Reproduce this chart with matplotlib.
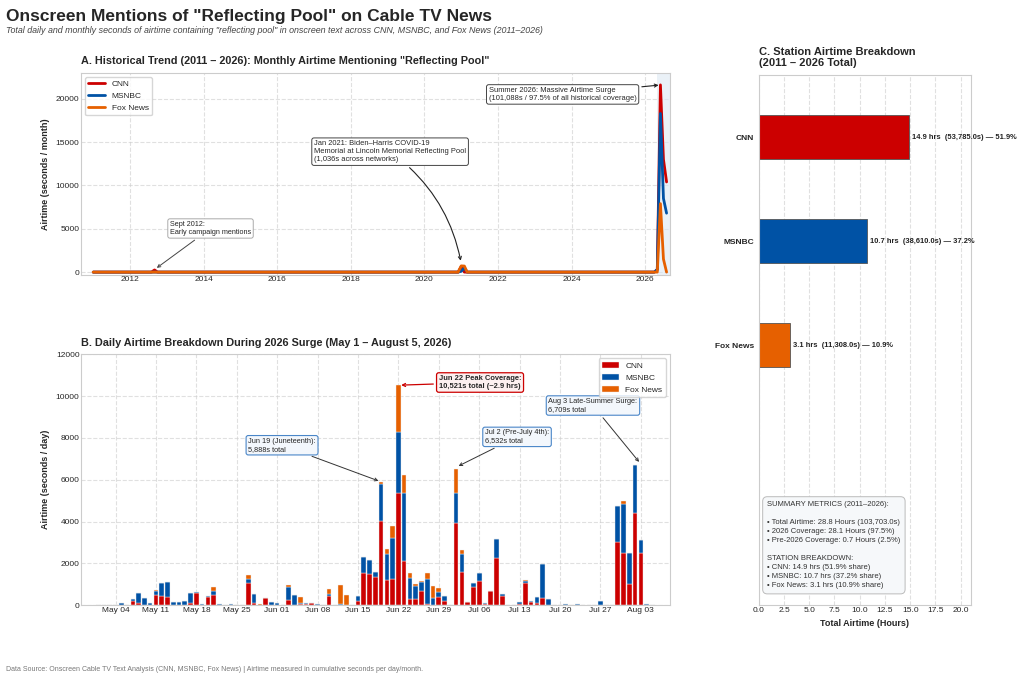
import matplotlib
matplotlib.use("Agg")
import matplotlib.pyplot as plt
import matplotlib.dates as mdates
import pandas as pd
import numpy as np

plt.style.use("seaborn-v0_8-whitegrid")
plt.rcParams['font.family'] = ['Liberation Sans', 'DejaVu Sans']
plt.rcParams['grid.linestyle'] = '--'
plt.rcParams['grid.alpha'] = 0.6

C_CNN = "#cc0000"
C_MSNBC = "#0052a5"
C_FOX = "#e66000"

# ---- monthly history (zero except these months) ----
spike_months = ["2012-09", "2021-01", "2021-02", "2026-05", "2026-06", "2026-07", "2026-08"]
cnn_spikes = [250, 650, 0, 300, 21600, 13000, 10400]
msnbc_spikes = [0, 100, 500, 300, 18300, 8500, 6800]
fox_spikes = [0, 720, 700, 0, 7900, 1500, 0]

months = pd.date_range("2011-01-01", "2026-08-01", freq="MS")
cnn_m = pd.Series(0.0, index=months)
msnbc_m = pd.Series(0.0, index=months)
fox_m = pd.Series(0.0, index=months)
for m, c, ms, f in zip(spike_months, cnn_spikes, msnbc_spikes, fox_spikes):
    cnn_m[pd.Timestamp(m + "-01")] = c
    msnbc_m[pd.Timestamp(m + "-01")] = ms
    fox_m[pd.Timestamp(m + "-01")] = f

# ---- daily 2026 surge (May 1 .. Aug 5), non-zero days by offset from May 1 ----
day_idx = [4, 6, 7, 8, 9, 10, 11, 12, 13, 14, 15, 16, 17, 18, 19, 20, 21, 23,
           26, 27, 28, 29, 30, 31, 33, 34, 35, 36, 37, 38, 40, 41, 42, 43,
           45, 46, 47, 48, 49, 50, 51, 52, 53, 54, 55, 56, 57, 58, 59, 60,
           62, 63, 64, 65, 66, 67, 68, 69, 70, 71, 73, 74, 75, 76, 77, 78,
           81, 83, 87, 90, 91, 92, 93, 94, 95]
cnn_d = [0, 200, 100, 0, 0, 480, 450, 380, 0, 0, 0, 100, 560, 0, 400, 500, 0, 0,
         1050, 100, 0, 350, 0, 0, 270, 0, 50, 40, 100, 20, 430, 0, 0, 0,
         200, 1550, 1500, 1370, 4050, 1200, 1250, 5350, 2100, 320, 300, 700, 50, 0, 400, 200,
         3920, 1600, 150, 850, 1150, 50, 660, 2270, 460, 0, 50, 1050, 150, 100, 330, 0,
         0, 0, 0, 3000, 2480, 1000, 4400, 2500, 0]
msnbc_d = [100, 100, 460, 330, 100, 210, 630, 740, 130, 130, 180, 490, 80, 60, 20, 200, 70, 50,
           200, 440, 0, 0, 160, 100, 600, 470, 50, 50, 0, 20, 100, 0, 50, 0,
           220, 750, 650, 210, 1750, 1250, 1950, 2950, 3250, 1000, 620, 430, 1180, 350, 250, 230,
           1440, 850, 0, 230, 400, 50, 0, 890, 90, 20, 90, 100, 50, 280, 1640, 320,
           80, 50, 220, 1750, 2380, 1520, 2309, 630, 60]
fox_d = [0, 0, 0, 0, 0, 30, 0, 0, 0, 0, 0, 0, 0, 0, 20, 170, 0, 0,
         190, 0, 50, 0, 0, 0, 80, 0, 280, 10, 0, 10, 260, 30, 920, 510,
         0, 0, 0, 0, 90, 250, 600, 2220, 870, 200, 100, 20, 320, 570, 170, 0,
         1170, 170, 0, 0, 10, 0, 0, 0, 0, 0, 0, 40, 0, 0, 0, 0,
         0, 0, 0, 0, 120, 0, 0, 0, 0]

days = pd.date_range("2026-05-01", "2026-08-05", freq="D")
cnn_day = np.zeros(len(days)); msnbc_day = np.zeros(len(days)); fox_day = np.zeros(len(days))
for i, c, ms, f in zip(day_idx, cnn_d, msnbc_d, fox_d):
    cnn_day[i] = c; msnbc_day[i] = ms; fox_day[i] = f

stations = ["CNN", "MSNBC", "Fox News"]
hours = [14.9, 10.7, 3.1]
seconds = [53785.0, 38610.0, 11308.0]
shares = [51.9, 37.2, 10.9]

fig = plt.figure(figsize=(10.24, 6.8), dpi=100)
fig.text(0.006, 0.975, 'Onscreen Mentions of "Reflecting Pool" on Cable TV News',
         fontsize=12.5, fontweight="bold", va="center")
fig.text(0.006, 0.955, 'Total daily and monthly seconds of airtime containing "reflecting pool" in onscreen text across CNN, MSNBC, and Fox News (2011–2026)',
         fontsize=6.4, style="italic", color="#444444", va="center")
fig.text(0.006, 0.013, "Data Source: Onscreen Cable TV Text Analysis (CNN, MSNBC, Fox News) | Airtime measured in cumulative seconds per day/month.",
         fontsize=5, color="#777777")

# ---- Panel A ----
axA = fig.add_axes([0.079, 0.596, 0.575, 0.297])
axA.plot(months, cnn_m, color=C_CNN, lw=2, label="CNN")
axA.plot(months, msnbc_m, color=C_MSNBC, lw=2, label="MSNBC")
axA.plot(months, fox_m, color=C_FOX, lw=2, label="Fox News")
axA.axvspan(pd.Timestamp("2026-05-01"), pd.Timestamp("2026-09-01"), color="#dce8f3", alpha=0.6, lw=0)
axA.set_xlim(pd.Timestamp("2010-09-01"), pd.Timestamp("2026-09-01"))
axA.set_ylim(-300, 23000)
axA.set_title('A. Historical Trend (2011 – 2026): Monthly Airtime Mentioning "Reflecting Pool"',
              fontsize=7.8, fontweight="bold", loc="left", pad=6)
axA.set_ylabel("Airtime (seconds / month)", fontsize=6.5, fontweight="bold")
axA.tick_params(labelsize=6, pad=1)
axA.xaxis.set_major_locator(mdates.YearLocator(2))
axA.xaxis.set_major_formatter(mdates.DateFormatter("%Y"))
axA.legend(loc="upper left", fontsize=6, frameon=True)
box = dict(boxstyle="round,pad=0.3", fc="white", ec="#444444", lw=0.7)
axA.annotate("Sept 2012:\nEarly campaign mentions", xy=(pd.Timestamp("2012-09-01"), 300),
             xytext=(pd.Timestamp("2013-02-01"), 4400), fontsize=5.2, bbox=dict(box, ec="#aaaaaa"),
             arrowprops=dict(arrowstyle="->", color="#444444", lw=0.7))
axA.annotate("Jan 2021: Biden–Harris COVID-19\nMemorial at Lincoln Memorial Reflecting Pool\n(1,036s across networks)",
             xy=(pd.Timestamp("2021-01-01"), 1000), xytext=(pd.Timestamp("2017-01-01"), 12800),
             fontsize=5.4, bbox=box,
             arrowprops=dict(arrowstyle="->", color="#222222", lw=0.8, connectionstyle="arc3,rad=-0.2"))
axA.annotate("Summer 2026: Massive Airtime Surge\n(101,088s / 97.5% of all historical coverage)",
             xy=(pd.Timestamp("2026-06-10"), 21600), xytext=(pd.Timestamp("2021-10-01"), 20500),
             fontsize=5.4, bbox=box, va="center",
             arrowprops=dict(arrowstyle="->", color="#222222", lw=0.8))

# ---- Panel B ----
axB = fig.add_axes([0.079, 0.110, 0.575, 0.369])
w = 0.8
axB.bar(days, cnn_day, width=w, color=C_CNN, edgecolor="#f0f0f0", lw=0.3, label="CNN")
axB.bar(days, msnbc_day, width=w, bottom=cnn_day, color=C_MSNBC, edgecolor="#f0f0f0", lw=0.3, label="MSNBC")
axB.bar(days, fox_day, width=w, bottom=cnn_day + msnbc_day, color=C_FOX, edgecolor="#f0f0f0", lw=0.3, label="Fox News")
axB.set_xlim(pd.Timestamp("2026-04-28"), pd.Timestamp("2026-08-08"))
axB.set_ylim(0, 12000)
axB.xaxis.set_major_locator(mdates.WeekdayLocator(byweekday=mdates.MO))
axB.xaxis.set_major_formatter(mdates.DateFormatter("%b %d"))
axB.tick_params(labelsize=6, pad=1)
axB.set_title("B. Daily Airtime Breakdown During 2026 Surge (May 1 – August 5, 2026)",
              fontsize=7.8, fontweight="bold", loc="left", pad=6)
axB.set_ylabel("Airtime (seconds / day)", fontsize=6.5, fontweight="bold")
axB.legend(loc="upper right", fontsize=6, frameon=True)
bbox_b = dict(boxstyle="round,pad=0.3", fc="#f3f7fc", ec="#4a86c8", lw=0.8)
axB.annotate("Jun 19 (Juneteenth):\n5,888s total", xy=(pd.Timestamp("2026-06-19"), 5900),
             xytext=(pd.Timestamp("2026-05-27"), 7650), fontsize=5.3, bbox=bbox_b, va="center",
             arrowprops=dict(arrowstyle="->", color="#333333", lw=0.7))
axB.annotate("Jun 22 Peak Coverage:\n10,521s total (~2.9 hrs)", xy=(pd.Timestamp("2026-06-22"), 10521),
             xytext=(pd.Timestamp("2026-06-29"), 10650), fontsize=5.4, fontweight="bold", va="center",
             bbox=dict(boxstyle="round,pad=0.3", fc="#fdf0f0", ec=C_CNN, lw=0.9),
             arrowprops=dict(arrowstyle="->", color=C_CNN, lw=0.9))
axB.annotate("Jul 2 (Pre-July 4th):\n6,532s total", xy=(pd.Timestamp("2026-07-02"), 6600),
             xytext=(pd.Timestamp("2026-07-07"), 8050), fontsize=5.3, bbox=bbox_b, va="center",
             arrowprops=dict(arrowstyle="->", color="#333333", lw=0.7))
axB.annotate("Aug 3 Late-Summer Surge:\n6,709s total", xy=(pd.Timestamp("2026-08-03"), 6750),
             xytext=(pd.Timestamp("2026-07-18"), 9550), fontsize=5.3, bbox=bbox_b, va="center",
             arrowprops=dict(arrowstyle="->", color="#333333", lw=0.7))

# ---- Panel C ----
axC = fig.add_axes([0.741, 0.110, 0.207, 0.780])
ypos = [2, 1, 0]
axC.barh(ypos, hours, height=0.42, color=[C_CNN, C_MSNBC, C_FOX], edgecolor="#555555", lw=0.6)
for y, h, s, p in zip(ypos, hours, seconds, shares):
    axC.text(h + 0.3, y, f"{h:.1f} hrs  ({s:,.1f}s) — {p:.1f}%", va="center",
             fontsize=5.4, fontweight="bold", color="#222222")
axC.set_yticks(ypos)
axC.set_yticklabels(stations, fontsize=6, fontweight="bold")
axC.set_ylim(-2.5, 2.6)
axC.set_xlim(0, 21)
axC.set_xticks(np.arange(0, 20.1, 2.5))
axC.tick_params(axis="x", labelsize=6, pad=1)
axC.grid(axis="y", visible=False)
axC.set_xlabel("Total Airtime (Hours)", fontsize=6.5, fontweight="bold")
axC.set_title("C. Station Airtime Breakdown\n(2011 – 2026 Total)", fontsize=8,
              fontweight="bold", loc="left", pad=6)
summary = ("SUMMARY METRICS (2011–2026):\n\n"
           "• Total Airtime: 28.8 Hours (103,703.0s)\n"
           "• 2026 Coverage: 28.1 Hours (97.5%)\n"
           "• Pre-2026 Coverage: 0.7 Hours (2.5%)\n\n"
           "STATION BREAKDOWN:\n"
           "• CNN: 14.9 hrs (51.9% share)\n"
           "• MSNBC: 10.7 hrs (37.2% share)\n"
           "• Fox News: 3.1 hrs (10.9% share)")
axC.text(0.04, 0.03, summary, transform=axC.transAxes, fontsize=5.5, color="#333333",
         va="bottom", ha="left", linespacing=1.4,
         bbox=dict(boxstyle="round,pad=0.6", fc="#f6f8fa", ec="#bbbbbb", lw=0.7))
for ax in (axA, axB, axC):
    for sp in ax.spines.values():
        sp.set_visible(True); sp.set_color("#cccccc"); sp.set_linewidth(0.8)

fig.savefig("out.png", dpi=100)
